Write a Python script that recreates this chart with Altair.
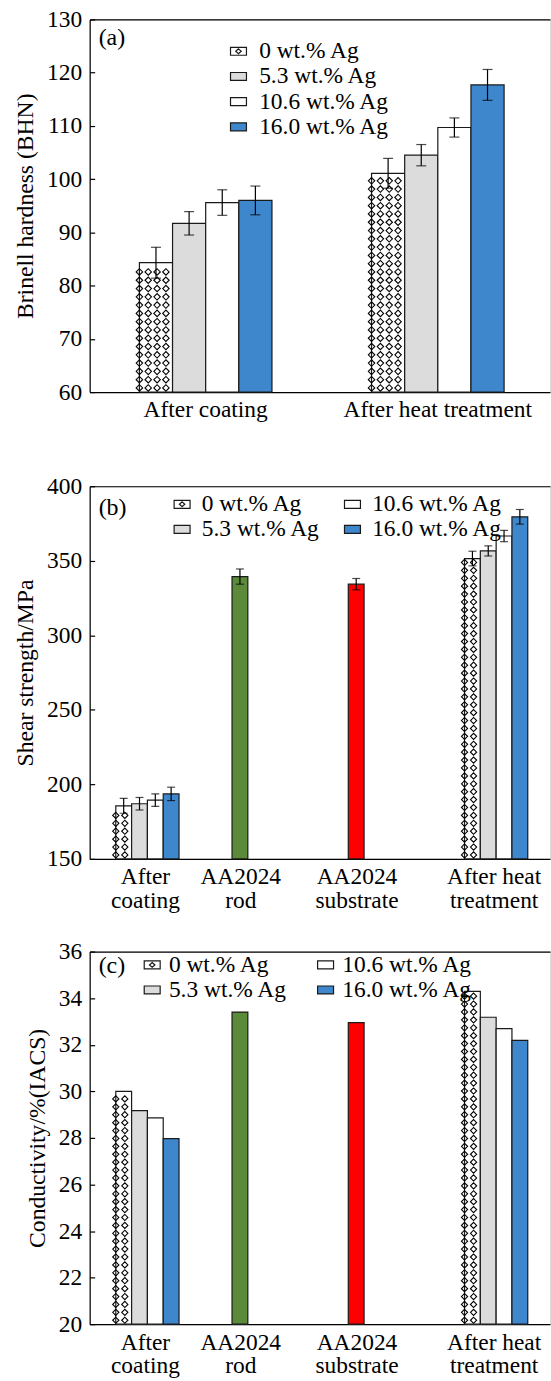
import json
import altair as alt
import pandas as pd

FONT = "Liberation Serif"
W, H = 462, 374

# ---------------- data ----------------
series = ["0 wt.% Ag", "5.3 wt.% Ag", "10.6 wt.% Ag", "16.0 wt.% Ag"]
materials = ["AA2024 rod", "AA2024 substrate"]
fill_keys = series + materials
fill_colors = ["#ffffff", "#dcdcdc", "#ffffff", "#3e87cd", "#5b8a3a", "#ff0000"]

# (a) Brinell hardness
cats_a = ["After coating", "After heat treatment"]
hard_coat = [84.3, 91.7, 95.6, 96.0]
hard_coat_err = [2.9, 2.2, 2.4, 2.7]
hard_heat = [101.1, 104.5, 109.7, 117.7]
hard_heat_err = [2.8, 2.0, 1.8, 2.9]

# (b) shear strength
cats_bc = ["After\ncoating", "AA2024\nrod", "AA2024\nsubstrate", "After heat\ntreatment"]
shear_coat = [185.6, 187.0, 189.4, 193.6]
shear_coat_err = [5.0, 4.2, 4.2, 4.5]
shear_rod, shear_rod_err = 339.4, 5.1
shear_sub, shear_sub_err = 334.3, 3.8
shear_heat = [351.5, 356.6, 366.6, 379.5]
shear_heat_err = [4.9, 3.4, 3.8, 4.9]

# (c) conductivity
cond_coat = [30.0, 29.17, 28.86, 27.97]
cond_rod = 33.40
cond_sub = 32.95
cond_heat = [34.29, 33.18, 32.69, 32.19]

df_a = pd.DataFrame({
    "category": [cats_a[0]] * 4 + [cats_a[1]] * 4,
    "sample": series + series,
    "value": hard_coat + hard_heat,
    "err": hard_coat_err + hard_heat_err,
})
df_b = pd.DataFrame({
    "category": [cats_bc[0]] * 4 + [cats_bc[1], cats_bc[2]] + [cats_bc[3]] * 4,
    "sample": series + materials + series,
    "value": shear_coat + [shear_rod, shear_sub] + shear_heat,
    "err": shear_coat_err + [shear_rod_err, shear_sub_err] + shear_heat_err,
})
df_c = pd.DataFrame({
    "category": [cats_bc[0]] * 4 + [cats_bc[1], cats_bc[2]] + [cats_bc[3]] * 4,
    "sample": series + materials + series,
    "value": cond_coat + [cond_rod, cond_sub] + cond_heat,
    "err": [0.0] * 10,
})

rect_path = "M-1,-0.5L1,-0.5L1,0.5L-1,0.5Z"
hatch_symbol = rect_path + "M0,-0.3L0.34,0L0,0.3L-0.34,0Z"
symbol_paths = [hatch_symbol] + [rect_path] * 5

slot_expr = (f"indexof({json.dumps(series)}, datum.sample) < 0 ? "
             f"{json.dumps(series[0])} : datum.sample")


def panel(df, cats, ydom, yticks, ytitle, tag, tag_y, leg, pi, po, al,
          ncols, cap_w, multiline, cond_offset, with_err):
    n = len(cats)
    xscale = alt.Scale(domain=cats, paddingInner=pi, paddingOuter=po, align=al)
    yscale = alt.Scale(domain=ydom, nice=False, zero=False)
    offscale = alt.Scale(domain=series, paddingInner=0, paddingOuter=0)
    yaxis = alt.Axis(values=yticks, format="d", tickSize=alt.expr("-5"),
                     tickWidth=1.2, tickColor="black", domainColor="black",
                     domainWidth=1.2, labelFont=FONT, labelFontSize=23.5,
                     labelColor="black", labelPadding=13, grid=False,
                     titleFont=FONT, titleFontSize=23.7, titleFontWeight="normal",
                     titleColor="black", titlePadding=9)
    xkw = dict(orient="bottom", ticks=False, domainColor="black", domainWidth=1.2,
               labelFont=FONT, labelFontSize=23.5, labelColor="black",
               labelAngle=0, labelPadding=6, grid=False, labelLimit=400,
               labelOverlap=False)
    if multiline:
        xkw["labelExpr"] = "split(datum.label, '\\n')"
        xkw["labelLineHeight"] = 23.5
        if cond_offset:
            xkw["labelOffset"] = {"condition": {"test": "indexof(datum.value, 'AA2024') >= 0",
                                                "value": -23}, "value": -2}
        else:
            xkw["labelOffset"] = -2

    def X(axis):
        return alt.X("category:N", scale=xscale, sort=cats, axis=axis, title=None)

    XO = alt.XOffset("slot:N", scale=offscale)

    def Y(field):
        return alt.Y(field, scale=yscale, axis=yaxis, title=ytitle)

    legend = alt.Legend(title=None, labelFont=FONT, labelFontSize=23.5,
                        labelColor="black", symbolSize=256, symbolFillColor="white",
                        symbolStrokeWidth=1.2, padding=0, labelLimit=400,
                        orient="none", **leg)
    color_scale = alt.Scale(domain=fill_keys, range=fill_colors)
    shape_scale = alt.Scale(domain=fill_keys, range=symbol_paths)

    base = alt.Chart(df).transform_calculate(slot=slot_expr)

    legend_layer = base.transform_filter("false").mark_point(
        filled=True, opacity=1, stroke="#1a1a1a", strokeWidth=1.2).encode(
        x=X(None), xOffset=XO, y=Y("value:Q"),
        color=alt.Color("sample:N", scale=color_scale, legend=legend),
        shape=alt.Shape("sample:N", scale=shape_scale, legend=legend),
    )

    bars = base.mark_bar(stroke="#1a1a1a", strokeWidth=1.2).encode(
        x=X(alt.Axis(**xkw)), xOffset=XO, y=Y("value:Q"), y2=alt.datum(ydom[0]),
        color=alt.Color("sample:N", scale=color_scale, legend=legend),
    )

    step_x = W / (n - pi + 2 * po)
    slot_w = step_x * (1 - pi) / 4
    pitch = slot_w / ncols
    rstep = pitch / (H / (ydom[1] - ydom[0]))
    hatch = (
        alt.Chart(df)
        .transform_filter(alt.FieldEqualPredicate(field="sample", equal=series[0]))
        .transform_calculate(
            rows=f"sequence({ydom[0] + rstep / 2}, datum.value - {rstep * 0.35}, {rstep})",
            cols=f"sequence(0, {ncols})",
        )
        .transform_flatten(["rows"])
        .transform_flatten(["cols"])
        .mark_point(shape="diamond", filled=False, color="black", strokeWidth=1.1,
                    size=(pitch * 0.78) ** 2, opacity=1)
        .encode(
            x=X(alt.Axis(orient="top", labels=False, ticks=False, domain=True,
                         domainColor="black", domainWidth=1.2, grid=False,
                         minExtent=0, maxExtent=0, labelPadding=0, title=None)),
            xOffset=alt.XOffset("cols:O", scale=alt.Scale(domain=list(range(4 * ncols)),
                                                          paddingInner=0, paddingOuter=0)),
            y=Y("rows:Q"),
        )
    )

    tag_layer = alt.Chart(pd.DataFrame({"tag": [tag]})).mark_text(
        align="left", baseline="middle", font=FONT, fontSize=24, color="black"
    ).encode(text="tag:N", x=alt.value(9), y=alt.value(tag_y))

    layers = [legend_layer, bars, hatch]
    if with_err:
        eb = alt.Chart(df).transform_filter("datum.err > 0").transform_calculate(
            slot=slot_expr, lo="datum.value - datum.err", hi="datum.value + datum.err")
        rule = eb.mark_rule(color="black", strokeWidth=1.2).encode(
            x=X(None), xOffset=XO, y=Y("lo:Q"), y2="hi:Q")
        caps = eb.transform_fold(["lo", "hi"], as_=["end", "yv"]).mark_tick(
            color="black", thickness=1.2, size=cap_w).encode(
            x=X(None), xOffset=XO, y=Y("yv:Q"))
        layers += [rule, caps]
    layers += [tag_layer]

    return (alt.layer(*layers)
            .resolve_scale(xOffset="independent")
            .resolve_axis(x="independent")
            .properties(width=W, height=H))


def indep(c):
    return (c.resolve_scale(color="independent", shape="independent",
                            x="independent", y="independent")
             .resolve_legend(color="independent", shape="independent"))


def build(cond):
    pa = panel(df_a, cats_a, [60, 130], list(range(60, 131, 10)),
               "Brinell hardness (BHN)", "(a)", 18.6,
               dict(legendX=137.6, legendY=20.2, direction="vertical", values=series,
                    labelOffset=9, rowPadding=0.3),
               0.429, 0.206, 0.52, 4, 10, False, cond, True)
    pb = panel(df_b, cats_bc, [150, 400], list(range(150, 401, 50)),
               "Shear strength/MPa", "(b)", 21.7,
               dict(legendX=81, legendY=6, direction="vertical", columns=2,
                    columnPadding=20, labelOffset=8, rowPadding=0.5, values=series),
               0.456, 0.208, 0.54, 2, 8, True, cond, True)
    pc = panel(df_c, cats_bc, [20, 36], list(range(20, 37, 2)),
               "Conductivity/%(IACS)", "(c)", 15,
               dict(legendX=51, legendY=1.3, direction="vertical", columns=2,
                    columnPadding=26, labelOffset=5, rowPadding=0.5, values=series),
               0.456, 0.208, 0.54, 2, 8, True, cond, False)
    top = indep(alt.vconcat(pa, pb, spacing=51.5))
    ch = (indep(alt.vconcat(top, pc, spacing=26.5))
          .configure_view(stroke="transparent")
          .configure(font=FONT)
          .properties(padding={"left": 13, "top": 4, "right": 0, "bottom": 0},
                      background="white"))
    return ch


try:
    chart = build(True)
    chart.to_dict()
except Exception:
    chart = build(False)

chart.save("out.html", embed_options={"renderer": "svg", "actions": False})
